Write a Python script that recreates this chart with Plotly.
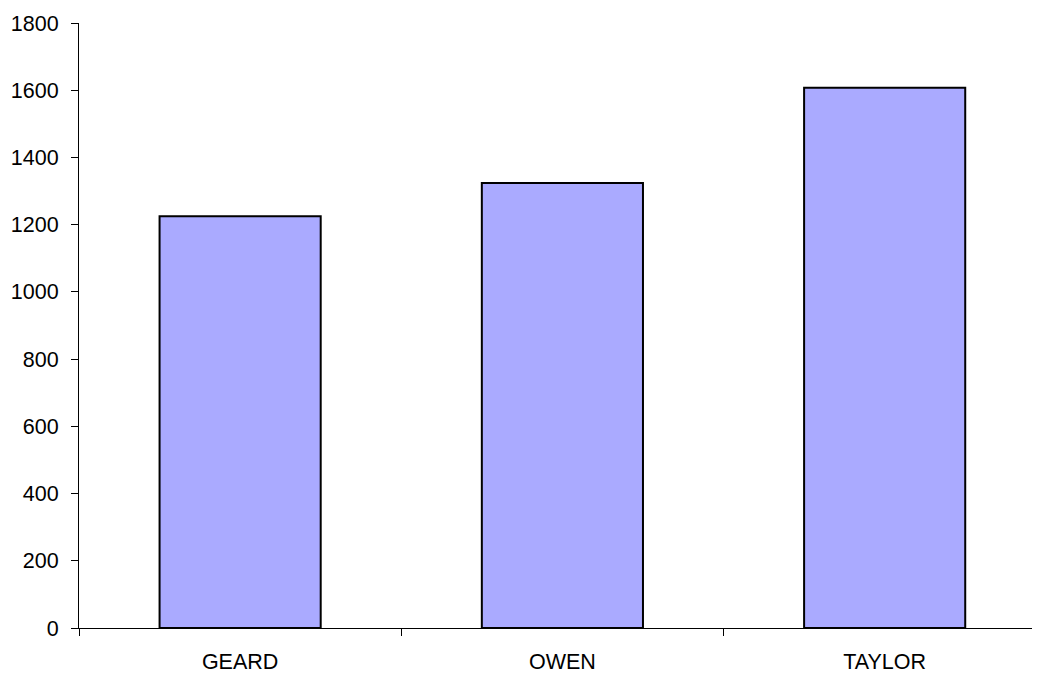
import plotly.graph_objects as go

categories = ["GEARD", "OWEN", "TAYLOR"]
values = [1225, 1324, 1607]
y_tick_values = [0, 200, 400, 600, 800, 1000, 1200, 1400, 1600, 1800]

fig = go.Figure()
fig.add_trace(go.Bar(
    x=categories,
    y=values,
    width=0.5,
    marker=dict(color="#AAAAFF", line=dict(color="black", width=2)),
))

fig.update_layout(
    width=1032,
    height=669,
    margin=dict(l=71, r=0, t=15, b=49, pad=0),
    paper_bgcolor="white",
    plot_bgcolor="white",
    showlegend=False,
    font=dict(family="Liberation Sans, Arial, sans-serif", size=21.5, color="black"),
    xaxis=dict(
        type="category",
        range=[-0.5, 2.482],
        showline=True,
        linecolor="black",
        linewidth=1,
        ticks="outside",
        tickson="boundaries",
        ticklen=7,
        tickcolor="black",
        showgrid=False,
        zeroline=False,
        ticklabelstandoff=14,
        tickfont=dict(size=21.5),
    ),
    yaxis=dict(
        range=[0, 1800],
        tickvals=y_tick_values,
        showline=True,
        linecolor="black",
        linewidth=1,
        ticks="outside",
        ticklen=7,
        tickcolor="black",
        showgrid=False,
        zeroline=False,
        ticklabelstandoff=8,
        tickfont=dict(size=21.5),
    ),
)

fig.write_html("out.html")
